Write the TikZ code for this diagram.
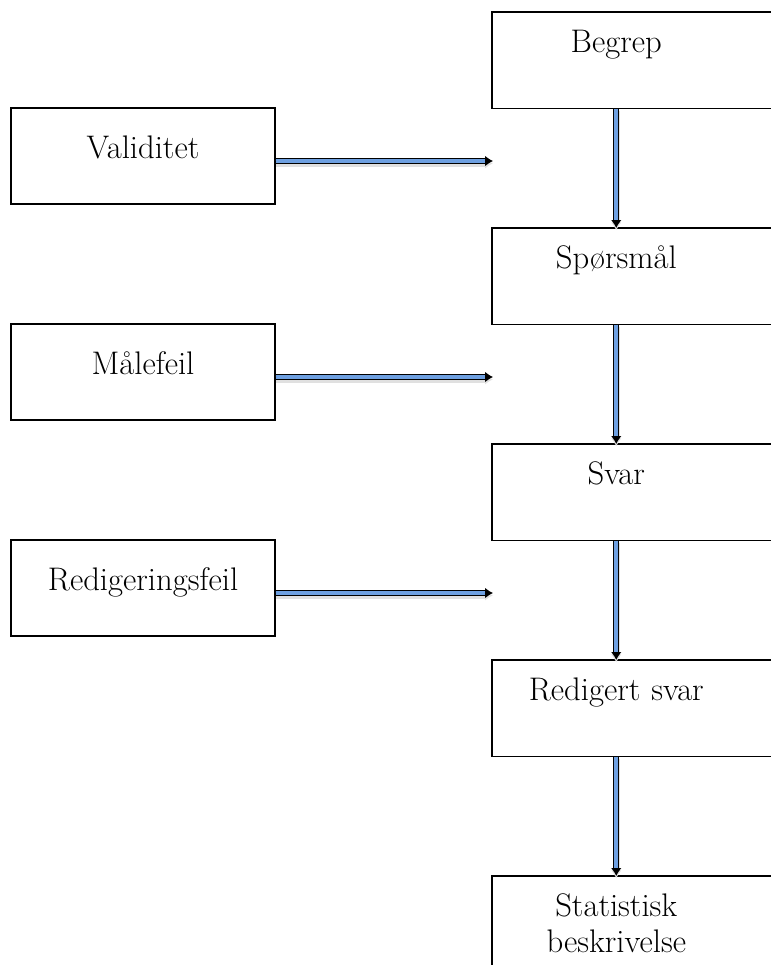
\documentclass[tikz,border=0pt]{standalone}
\usepackage{tikz}
\usetikzlibrary{arrows.meta}
\definecolor{arrowblue}{RGB}{110,160,225}
\tikzset{>={Latex[length=6pt,width=8pt]}}
\tikzset{errbox/.style={draw, line width=1pt, minimum width=198pt,
    minimum height=72pt, inner sep=0pt, text height=17pt, text depth=13pt,
    font=\fontsize{24.5}{27}\selectfont}}
\tikzset{stepbox/.style={anchor=north west, text width=186pt, align=center,
    inner sep=0pt, text height=30pt, text depth=42pt,
    font=\fontsize{24.5}{27}\selectfont}}
\tikzset{flow/.style={->, line width=1pt, double=arrowblue, double distance=2.8pt,
    preaction={draw=black!12, line width=5.5pt, transform canvas={yshift=-1.8pt}}}}

\begin{document}
\begin{tikzpicture}[x=0.75pt, y=-0.75pt]
    \clip (0,0) rectangle (771,965);
    %error sources
    \node[errbox] (validitet) at (143,156) {Validitet};
    \node[errbox] (malefeil) at (143,372) {Målefeil};
    \node[errbox] (redfeil) at (143,588) {Redigeringsfeil};
    %steps
    \node[stepbox] (begrep) at (492,12) {Begrep};
    \node[stepbox] (sporsmal) at (492,228) {Spørsmål};
    \node[stepbox] (svar) at (492,444) {Svar};
    \node[stepbox] (redsvar) at (492,660) {Redigert svar};
    \node[stepbox] (statistikk) at (492,876) {Statistisk\\beskrivelse};
    \foreach \n in {begrep,sporsmal,svar,redsvar,statistikk}
        \draw[line width=1pt] (\n.south west) rectangle ([xshift=60pt]\n.north east);
    %arrow ends
    \coordinate (v) at (493,161);
    \coordinate (m) at (493,377);
    \coordinate (r) at (493,593);
    %arrows
    \draw[flow] (validitet.east |- v) -- (v);
    \draw[flow] (malefeil.east |- m) -- (m);
    \draw[flow] (redfeil.east |- r) -- (r);
    \draw[flow] (begrep) -- (sporsmal);
    \draw[flow] (sporsmal) -- (svar);
    \draw[flow] (svar) -- (redsvar);
    \draw[flow] (redsvar) -- (statistikk);
\end{tikzpicture}
\end{document}
